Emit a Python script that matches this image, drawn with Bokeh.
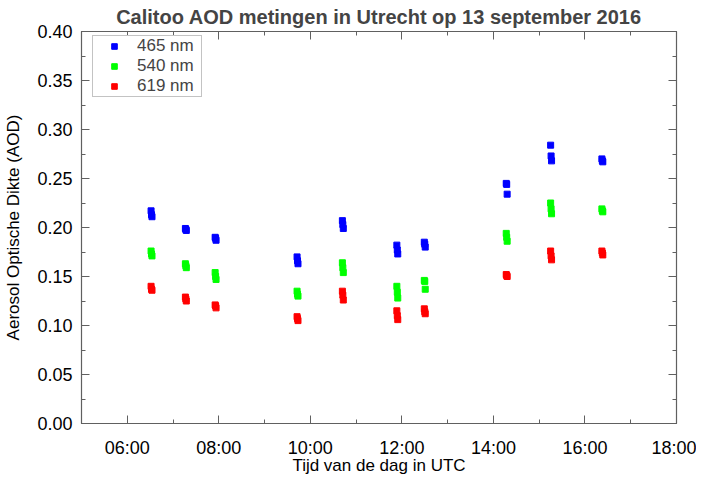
from bokeh.plotting import figure
from bokeh.models import FixedTicker, LinearAxis, Range1d, NumeralTickFormatter, CustomJSTickFormatter
from bokeh.embed import file_html
from bokeh.resources import INLINE

# Measurement times (decimal hours UTC)
times = [6.52, 6.53, 6.54,
         7.27, 7.28, 7.29,
         7.92, 7.93, 7.94,
         9.71, 9.72, 9.73,
         10.70, 10.71, 10.72,
         11.89, 11.90, 11.91,
         12.49, 12.50, 12.51,
         14.28, 14.29, 14.30,
         15.25, 15.26, 15.27,
         16.37, 16.38, 16.39]

aod_465 = [0.217, 0.213, 0.211,
           0.199, 0.198, 0.197,
           0.190, 0.189, 0.187,
           0.170, 0.166, 0.163,
           0.207, 0.203, 0.199,
           0.182, 0.177, 0.173,
           0.185, 0.183, 0.180,
           0.245, 0.244, 0.234,
           0.284, 0.273, 0.268,
           0.270, 0.268, 0.267]

aod_540 = [0.176, 0.173, 0.171,
           0.163, 0.161, 0.159,
           0.154, 0.150, 0.147,
           0.135, 0.132, 0.130,
           0.164, 0.159, 0.154,
           0.140, 0.134, 0.128,
           0.146, 0.145, 0.137,
           0.194, 0.190, 0.186,
           0.225, 0.219, 0.214,
           0.219, 0.217, 0.216]

aod_619 = [0.140, 0.137, 0.136,
           0.129, 0.127, 0.125,
           0.121, 0.120, 0.118,
           0.109, 0.107, 0.105,
           0.135, 0.131, 0.126,
           0.115, 0.110, 0.106,
           0.117, 0.114, 0.112,
           0.152, 0.151, 0.150,
           0.176, 0.171, 0.167,
           0.176, 0.174, 0.172]

series_labels = ["465 nm", "540 nm", "619 nm"]
series_colors = ["#0000ff", "#00ff00", "#ff0000"]

x_ticks = [6, 8, 10, 12, 14, 16, 18]
x_tick_labels = ["06:00", "08:00", "10:00", "12:00", "14:00", "16:00", "18:00"]
x_minor = [5, 6, 7, 8, 9, 10, 11, 12, 13, 14, 15, 16, 17, 18]
y_ticks = [0.0, 0.05, 0.10, 0.15, 0.20, 0.25, 0.30, 0.35, 0.40]
y_minor = [i * 0.025 for i in range(17)]

FONT = "Liberation Sans"
GRAY = "#606060"

p = figure(width=696, height=477, output_backend="svg", toolbar_location=None,
           x_range=Range1d(5, 18), y_range=Range1d(0, 0.4),
           min_border_left=81, min_border_right=20, min_border_top=31,
           min_border_bottom=54, x_axis_location=None, y_axis_location=None)

p.title.text = "Calitoo AOD metingen in Utrecht op 13 september 2016"
p.title.align = "center"
p.title.text_font = FONT
p.title.text_font_size = "20px"
p.title.text_font_style = "bold"
p.title.standoff = 7
p.title.offset = 0

p.xgrid.visible = False
p.ygrid.visible = False
p.outline_line_color = GRAY
p.outline_line_width = 1.2
p.background_fill_color = "white"
p.border_fill_color = "white"

xticker = FixedTicker(ticks=x_ticks, minor_ticks=x_minor)
yticker = FixedTicker(ticks=y_ticks, minor_ticks=y_minor)


def style(ax, labels=True):
    ax.axis_line_color = GRAY
    ax.major_tick_line_color = GRAY
    ax.minor_tick_line_color = GRAY
    ax.major_tick_in = 8
    ax.major_tick_out = 0
    ax.minor_tick_in = 4
    ax.minor_tick_out = 0
    ax.major_label_text_font = FONT
    ax.axis_label_text_font = FONT
    ax.axis_label_text_font_style = "normal"
    ax.major_label_text_color = "black"
    ax.axis_label_text_color = "black"
    if labels:
        ax.major_label_text_font_size = "18px"
        ax.axis_label_text_font_size = "17px"
    else:
        ax.formatter = CustomJSTickFormatter(code="return '';")
        ax.major_label_text_font_size = "1px"
        ax.major_label_standoff = 0


xaxis = LinearAxis(ticker=xticker, axis_label="Tijd van de dag in UTC",
                   major_label_overrides={float(t): l for t, l in zip(x_ticks, x_tick_labels)})
style(xaxis)
xaxis.major_label_standoff = 14
xaxis.axis_label_standoff = -5
p.add_layout(xaxis, "below")

yaxis = LinearAxis(ticker=yticker, axis_label="Aerosol Optische Dikte (AOD)",
                   formatter=NumeralTickFormatter(format="0.00"))
style(yaxis)
yaxis.major_label_standoff = 9
yaxis.axis_label_standoff = 11
p.add_layout(yaxis, "left")

xtop = LinearAxis(ticker=xticker)
style(xtop, labels=False)
p.add_layout(xtop, "above")

yright = LinearAxis(ticker=yticker)
style(yright, labels=False)
p.add_layout(yright, "right")

for vals, lab, col in zip([aod_465, aod_540, aod_619], series_labels, series_colors):
    p.scatter(times, vals, marker="square", size=6, fill_color=col, line_color=col,
              legend_label=lab)

lg = p.legend[0]
lg.location = (11, 326)
lg.label_text_font = FONT
lg.label_text_font_size = "17px"
lg.label_height = 18
lg.glyph_height = 14
lg.glyph_width = 42
lg.label_width = 64
lg.label_standoff = 2
lg.spacing = 0
lg.padding = 0
lg.margin = 0
lg.border_line_color = "#888888"
lg.border_line_width = 1
lg.background_fill_alpha = 1

open("out.html", "w").write(file_html(p, INLINE))
